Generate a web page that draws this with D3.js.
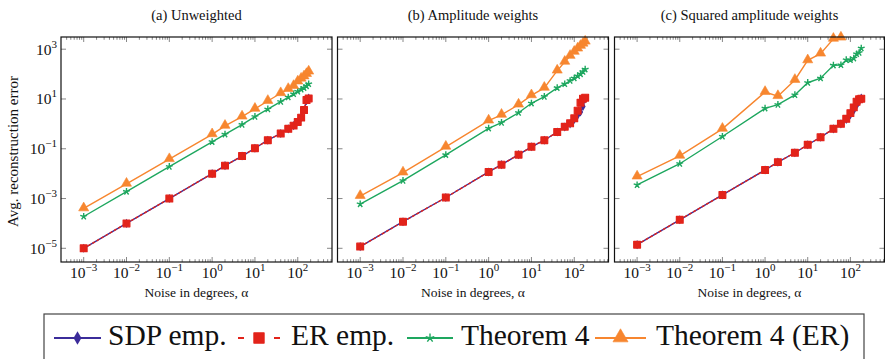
<!DOCTYPE html>
<html>
<head>
<meta charset="utf-8">
<script src="https://cdn.jsdelivr.net/npm/d3@7"></script>
<style>
  body { margin: 0; background: #fff; }
</style>
</head>
<body>
<svg width="885" height="359"></svg>
<script>
// noise levels (degrees)
const alpha = [0.001, 0.01, 0.1, 1, 2, 5, 10, 20, 40, 60, 80, 100, 120, 140, 160, 180];

const panelTitles = ["(a) Unweighted", "(b) Amplitude weights", "(c) Squared amplitude weights"];
const seriesNames = ["SDP emp.", "ER emp.", "Theorem 4", "Theorem 4 (ER)"];
const xTickValues = [1e-3, 1e-2, 1e-1, 1, 10, 100];
const xTickExps = ["−3", "−2", "−1", "0", "1", "2"];
const yTickValues = [1e-5, 1e-3, 1e-1, 10, 1000];
const yTickExps = ["−5", "−3", "−1", "1", "3"];

// (a) unweighted
const sdpA = [1e-5, 1e-4, 1e-3, 0.01, 0.021, 0.051, 0.105, 0.22, 0.41, 0.63, 0.85, 1.2, 1.8, 3.5, 8.5, 11];
const erA = [1e-5, 1e-4, 1e-3, 0.01, 0.021, 0.051, 0.105, 0.22, 0.41, 0.63, 0.85, 1.2, 1.78, 3.6, 9.1, 10.5];
const thmA = [1.9e-4, 1.9e-3, 0.019, 0.19, 0.38, 0.93, 1.94, 3.9, 7.8, 11.7, 15.8, 20, 24, 28, 33, 40];
const thmErA = [4e-4, 3.9e-3, 0.038, 0.38, 0.83, 1.95, 4, 8.3, 17, 25, 33, 50, 65, 80, 100, 125];

// (b) amplitude weights
const sdpB = [1.17e-5, 1.17e-4, 1.1e-3, 0.0117, 0.023, 0.058, 0.12, 0.22, 0.47, 0.75, 1.0, 1.5, 2.2, 3.0, 5.0, 10];
const erB = [1.17e-5, 1.17e-4, 1.1e-3, 0.0117, 0.023, 0.058, 0.12, 0.22, 0.47, 0.77, 1.05, 1.67, 3.4, 7.1, 10.3, 11.3];
const thmB = [6e-4, 5.2e-3, 0.057, 0.66, 1.12, 2.8, 6.7, 12.4, 28, 40, 54, 68, 84, 100, 125, 155];
const thmErB = [1.26e-3, 0.011, 0.12, 1.35, 2.3, 5.9, 14, 28, 137, 310, 535, 780, 1050, 1350, 1660, 2000];

// (c) squared amplitude weights
const sdpC = [1.4e-5, 1.4e-4, 1.4e-3, 0.014, 0.029, 0.069, 0.145, 0.29, 0.63, 1.0, 1.5, 2.3, 3.5, 5.5, 8, 11];
const erC = [1.4e-5, 1.4e-4, 1.4e-3, 0.014, 0.029, 0.069, 0.145, 0.29, 0.63, 1.0, 1.6, 2.7, 4.6, 7.8, 9.7, 10.3];
const thmC = [3.5e-3, 0.025, 0.31, 4.2, 5.9, 14.5, 45, 68, 225, 232, 370, 370, 430, 640, 720, 1090];
const thmErC = [7.6e-3, 0.052, 0.63, 19, 13, 58, 355, 660, 2600, 2900, 4500, 6000, 8000, 10000, 13000, 16000];

const colors = ["#3b2c9a", "#e2231a", "#1ea75f", "#f7862f"];
const FONT = "'Liberation Serif', 'Times New Roman', serif";

const panels = [
  {left: 61, right: 332, series: [sdpA, erA, thmA, thmErA]},
  {left: 337.5, right: 608.5, series: [sdpB, erB, thmB, thmErB]},
  {left: 614.5, right: 884.5, series: [sdpC, erC, thmC, thmErC]}
];
const plotTop = 37, plotBottom = 262;

const svg = d3.select("svg");

function addText(g, size) {
  return g.append("text").style("font-family", FONT).attr("font-size", size).attr("fill", "#111");
}

function starPath(r) {
  let d = "";
  for (let k = 0; k < 5; k++) {
    let a = (-90 + 72 * k) * Math.PI / 180;
    d += "M0,0L" + (r * Math.cos(a)).toFixed(2) + "," + (r * Math.sin(a)).toFixed(2);
  }
  return d;
}

function drawMarker(g, k, cx, cy, big) {
  let s = big ? 1.5 : 1;
  if (k == 0) {
    g.append("path").attr("d", d3.symbol(d3.symbolDiamond, 24 * s * s)())
      .attr("transform", "translate(" + cx + "," + cy + ")").attr("fill", colors[0]);
  } else if (k == 1) {
    g.append("path").attr("d", d3.symbol(d3.symbolSquare, 46 * s * s)())
      .attr("transform", "translate(" + cx + "," + cy + ")").attr("fill", colors[1])
      .attr("stroke", colors[1]).attr("stroke-width", 1.2).attr("stroke-linejoin", "round");
  } else if (k == 2) {
    g.append("path").attr("d", starPath(big ? 4.5 : 3.6))
      .attr("transform", "translate(" + cx + "," + cy + ")")
      .attr("stroke", colors[2]).attr("stroke-width", 1.4).attr("fill", "none");
  } else {
    g.append("path").attr("d", d3.symbol(d3.symbolTriangle, 44 * s * s)())
      .attr("transform", "translate(" + cx + "," + (cy - 0.5) + ")").attr("fill", colors[3])
      .attr("stroke", colors[3]).attr("stroke-width", 0.6);
  }
}

function supLabel(sel, exp) {
  sel.append("tspan").style("font-family", FONT).text("10");
  sel.append("tspan").style("font-family", FONT).attr("dy", -7).attr("font-size", 11).text(exp);
}

panels.forEach((p, i) => {
  let x = d3.scaleLog().domain([Math.pow(10, -3.53), Math.pow(10, 2.8)]).range([p.left, p.right]);
  let y = d3.scaleLog().domain([Math.pow(10, -5.55), Math.pow(10, 3.49)]).range([plotBottom, plotTop]);
  let g = svg.append("g");

  g.append("clipPath").attr("id", "clip" + i)
    .append("rect").attr("x", p.left).attr("y", plotTop)
    .attr("width", p.right - p.left).attr("height", plotBottom - plotTop);

  // ticks
  let minors = [];
  for (let e = -4; e <= 2; e++) {
    for (let m = 2; m <= 9; m++) {
      let v = m * Math.pow(10, e);
      if (x(v) > p.left + 0.5 && x(v) < p.right - 0.5) minors.push(v);
    }
  }
  minors.forEach(v => {
    g.append("line").attr("x1", x(v)).attr("x2", x(v)).attr("y1", plotBottom).attr("y2", plotBottom - 2.8)
      .attr("stroke", "#555").attr("stroke-width", 0.7);
    g.append("line").attr("x1", x(v)).attr("x2", x(v)).attr("y1", plotTop).attr("y2", plotTop + 2.8)
      .attr("stroke", "#555").attr("stroke-width", 0.7);
  });
  xTickValues.forEach(v => {
    g.append("line").attr("x1", x(v)).attr("x2", x(v)).attr("y1", plotBottom).attr("y2", plotBottom - 5)
      .attr("stroke", "#555").attr("stroke-width", 0.7);
    g.append("line").attr("x1", x(v)).attr("x2", x(v)).attr("y1", plotTop).attr("y2", plotTop + 5)
      .attr("stroke", "#555").attr("stroke-width", 0.7);
  });
  yTickValues.forEach(v => {
    g.append("line").attr("x1", p.left).attr("x2", p.left + 5).attr("y1", y(v)).attr("y2", y(v))
      .attr("stroke", "#555").attr("stroke-width", 0.7);
    g.append("line").attr("x1", p.right).attr("x2", p.right - 5).attr("y1", y(v)).attr("y2", y(v))
      .attr("stroke", "#555").attr("stroke-width", 0.7);
  });

  // tick labels
  xTickValues.forEach((v, j) => {
    let t = addText(g, 15.5).attr("x", x(v)).attr("y", 278).attr("text-anchor", "middle");
    supLabel(t, xTickExps[j]);
  });
  if (i == 0) {
    yTickValues.forEach((v, j) => {
      let t = addText(g, 15.5).attr("x", p.left - 4).attr("y", y(v) + 5.5).attr("text-anchor", "end");
      supLabel(t, yTickExps[j]);
    });
    addText(g, 15)
      .attr("transform", "translate(18," + ((plotTop + plotBottom) / 2 + 2) + ") rotate(-90)")
      .attr("text-anchor", "middle")
      .text("Avg. reconstruction error");
  }

  addText(g, 14.5).attr("x", (p.left + p.right) / 2).attr("y", 20)
    .attr("text-anchor", "middle").text(panelTitles[i]);
  addText(g, 13.5).attr("x", (p.left + p.right) / 2).attr("y", 297)
    .attr("text-anchor", "middle").text("Noise in degrees, α");

  // series
  p.series.forEach((vals, k) => {
    let pts = alpha.map((a, j) => [a, vals[j]]);
    let line = d3.line().x(d => x(d[0])).y(d => y(d[1]));
    g.append("path")
      .datum(pts)
      .attr("d", line)
      .attr("clip-path", "url(#clip" + i + ")")
      .attr("fill", "none")
      .attr("stroke", colors[k])
      .attr("stroke-width", 1.4)
      .attr("stroke-dasharray", k == 1 ? "3,2" : null);
    pts.filter(d => d[1] <= Math.pow(10, 3.5)).forEach(d => {
      drawMarker(g, k, x(d[0]), y(d[1]), false);
    });
  });

  g.append("rect").attr("x", p.left).attr("y", plotTop)
    .attr("width", p.right - p.left).attr("height", plotBottom - plotTop)
    .attr("fill", "none").attr("stroke", "#111").attr("stroke-width", 1.2);
});

// legend
let lg = svg.append("g");
lg.append("rect").attr("x", 44).attr("y", 314).attr("width", 820).attr("height", 60)
  .attr("fill", "none").attr("stroke", "#444").attr("stroke-width", 1.2);
const legendLines = [[54, 101], [238, 280], [407, 453], [595, 646]];
const legendText = [108, 291, 461, 656];
legendLines.forEach((l, k) => {
  let ly = 338;
  if (k == 1) {
    lg.append("line").attr("x1", l[0]).attr("x2", l[0] + 6).attr("y1", ly).attr("y2", ly)
      .attr("stroke", colors[1]).attr("stroke-width", 2);
    lg.append("line").attr("x1", l[1] - 6).attr("x2", l[1]).attr("y1", ly).attr("y2", ly)
      .attr("stroke", colors[1]).attr("stroke-width", 2);
  } else {
    lg.append("line").attr("x1", l[0]).attr("x2", l[1]).attr("y1", ly).attr("y2", ly)
      .attr("stroke", colors[k]).attr("stroke-width", 2);
  }
  drawMarker(lg, k, (l[0] + l[1]) / 2, ly, true);
  addText(lg, 29.5).attr("x", legendText[k]).attr("y", 345).text(seriesNames[k]);
});
</script>
</body>
</html>
